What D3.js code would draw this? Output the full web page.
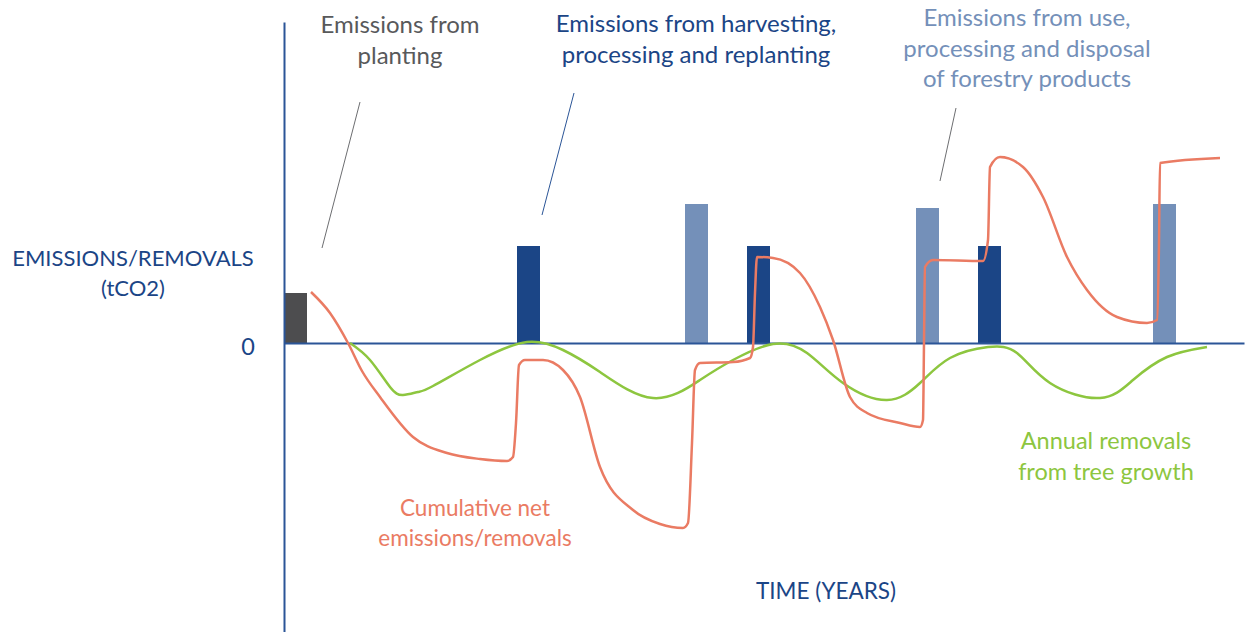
<!DOCTYPE html>
<html>
<head>
<meta charset="utf-8">
<script src="https://cdn.jsdelivr.net/npm/d3@7"></script>
<style>
    body { margin: 0; background: #fff; }
    text { font-family: Lato, "Noto Sans", sans-serif; }
</style>
</head>
<body>
<div id="chart"></div>
<script>
// values in years (x) and tCO2 (y)
const plantingBars = [{ t: 0, v: 5.0 }];
const harvestBars = [{ t: 23.3, v: 9.7 }, { t: 46.3, v: 9.7 }, { t: 69.4, v: 9.7 }];
const useBars = [{ t: 40.1, v: 13.9 }, { t: 63.2, v: 13.5 }, { t: 86.9, v: 13.9 }];

const growthT = [6.6, 8.6, 10.6, 11.9, 13.4, 14.9, 19.6, 24.3, 27.9, 31.6, 36.9, 41.6, 44.9, 48.9, 52.3, 55.9, 60.3, 63.6, 66.6, 70.4, 73.3, 76.6, 81.6, 84.9, 88.3, 92.3];
const growthV = [0, -1.7, -4.4, -5.2, -4.9, -4.3, -1.7, 0.1, -0.7, -2.9, -5.5, -3.7, -1.7, -0.1, -1.0, -4.0, -5.7, -4.0, -1.5, -0.4, -1.0, -4.0, -5.5, -3.7, -1.4, -0.4];

const cumulT = [2.7, 4.6, 6.4, 7.8, 9.6, 12.9, 16.3, 19.6, 22.3, 22.9, 23.2, 23.5, 24.1, 25.9, 27.9, 29.6, 31.6, 34.9, 37.6, 39.9, 40.4, 40.8, 41.1, 41.6, 44.9, 46.6, 46.9, 47.1, 47.3, 48.9, 51.6, 53.6, 54.9, 56.6, 58.3, 61.6, 63.6, 63.9, 64.0, 64.1, 64.9, 69.9, 70.4, 70.6, 71.6, 73.9, 75.9, 78.3, 80.3, 83.3, 86.3, 87.3, 87.5, 87.6, 93.6];
const cumulV = [5.1, 3.0, 0, -2.8, -5.4, -9.4, -11.0, -11.6, -11.8, -11.4, -8.0, -2.2, -1.7, -1.7, -2.7, -5.4, -12.4, -16.7, -18.1, -18.5, -18.0, -10.0, -2.7, -2.0, -1.9, -1.5, -0.4, 5.0, 8.6, 8.5, 7.0, 3.6, 0.3, -5.4, -7.0, -8.0, -8.4, -7.7, 0, 7.6, 8.3, 8.2, 10.3, 17.6, 18.6, 17.6, 14.6, 8.6, 5.3, 2.6, 2.0, 2.3, 10.0, 18.0, 18.5];

// pointer lines from labels to the bars
const pointers = [
    { t1: 7.6, v1: 24.1, t2: 3.8, v2: 9.5, color: "#6d6e71" },
    { t1: 29.0, v1: 25.0, t2: 25.8, v2: 12.8, color: "#2b5597" },
    { t1: 67.2, v1: 23.5, t2: 65.6, v2: 16.2, color: "#6d6e71" }
];

let width = 1247,
    height = 632,
    margin = { top: 22, right: 3, bottom: 0, left: 284 };
const barW = 2.3;

const svg = d3
    .select("#chart")
    .append("svg")
    .attr("width", width)
    .attr("height", height)
    .attr("viewBox", [0, 0, width, height]);

let x = d3.scaleLinear().domain([0, 96]).range([margin.left, width - margin.right]);
let y = d3.scaleLinear().domain([-28.9, 32.1]).range([height - margin.bottom, margin.top]);

// bars
function drawBars(data, color) {
    svg.append("g")
        .selectAll("rect")
        .data(data)
        .join("rect")
        .attr("x", (d) => x(d.t))
        .attr("y", (d) => y(d.v))
        .attr("width", x(barW) - x(0))
        .attr("height", (d) => y(0) - y(d.v))
        .attr("fill", color);
}
drawBars(plantingBars, "#4d4d4f");
drawBars(harvestBars, "#1b4586");
drawBars(useBars, "#7490b9");

// axes
svg.append("g")
    .attr("transform", `translate(0,${y(0)})`)
    .call(d3.axisBottom(x).tickValues([]).tickSizeOuter(0))
    .call((g) => g.select(".domain").attr("stroke", "#2b5597").attr("stroke-width", 2));

svg.append("g")
    .attr("transform", `translate(${margin.left},0)`)
    .call(d3.axisLeft(y).tickValues([]).tickSizeOuter(0))
    .call((g) => g.select(".domain").attr("stroke", "#2b5597").attr("stroke-width", 2));

// lines
const growth = growthT.map((t, i) => ({ t, v: growthV[i] }));
const cumul = cumulT.map((t, i) => ({ t, v: cumulV[i] }));
const line = d3.line().x((d) => x(d.t)).y((d) => y(d.v));

svg.append("path")
    .datum(growth)
    .attr("fill", "none")
    .attr("stroke", "#8dc63f")
    .attr("stroke-width", 2.5)
    .attr("d", line.curve(d3.curveNatural));

svg.append("path")
    .datum(cumul)
    .attr("fill", "none")
    .attr("stroke", "#ea7b63")
    .attr("stroke-width", 2.5)
    .attr("stroke-linejoin", "round")
    .attr("d", line.curve(d3.curveMonotoneX));

svg.append("g")
    .selectAll("line")
    .data(pointers)
    .join("line")
    .attr("x1", (d) => x(d.t1))
    .attr("y1", (d) => y(d.v1))
    .attr("x2", (d) => x(d.t2))
    .attr("y2", (d) => y(d.v2))
    .attr("stroke", (d) => d.color)
    .attr("stroke-width", 1);

// labels
function label(lines, cx, cy, color, size) {
    const t = svg.append("text")
        .attr("text-anchor", "middle")
        .attr("fill", color)
        .style("font-size", size + "px");
    lines.forEach((s, i) => {
        t.append("tspan")
            .attr("x", cx)
            .attr("y", cy + i * 30.5)
            .attr("dy", "0.35em")
            .text(s);
    });
}
label(["Emissions from", "planting"], 400, 25, "#58595b", 24);
label(["Emissions from harvesting,", "processing and replanting"], 696, 24, "#1b4586", 24);
label(["Emissions from use,", "processing and disposal", "of forestry products"], 1027, 18, "#7490b9", 24);
label(["EMISSIONS/REMOVALS", "(tCO2)"], 133, 258, "#1b4586", 22);
label(["Cumulative net", "emissions/removals"], 475, 508, "#ea7b63", 22.5);
label(["Annual removals", "from tree growth"], 1106, 441, "#8dc63f", 23.5);
label(["TIME (YEARS)"], 826, 591, "#1b4586", 22.5);
label(["0"], 248, 347, "#1b4586", 23.5);
</script>
</body>
</html>
